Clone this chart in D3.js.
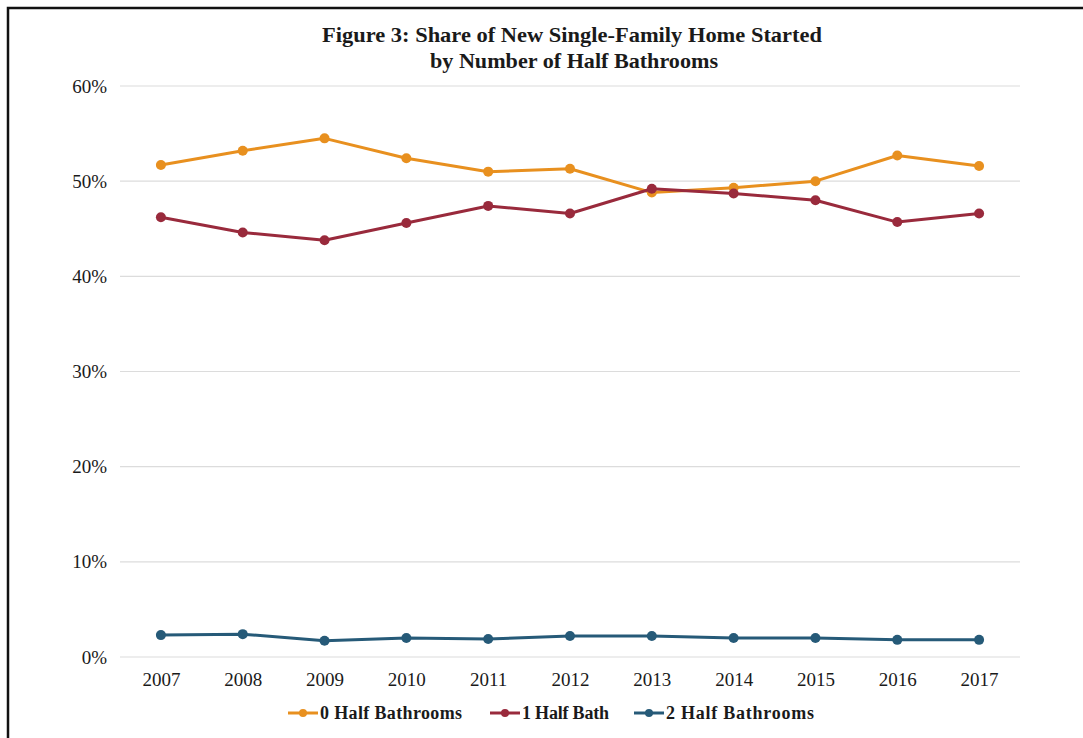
<!DOCTYPE html>
<html>
<head>
<meta charset="utf-8">
<script src="https://cdn.jsdelivr.net/npm/d3@7"></script>
<style>
  body { margin: 0; background: #fff; }
  svg { display: block; }
  text { font-family: 'Liberation Serif', 'Times New Roman', serif; fill: #1a1a1a; }
</style>
</head>
<body>
<div id="chart"></div>
<script>
// years on the x axis
let years = ['2007', '2008', '2009', '2010', '2011', '2012', '2013', '2014', '2015', '2016', '2017']
// share of starts, percent
let zeroHalf = [51.7, 53.2, 54.5, 52.4, 51.0, 51.3, 48.8, 49.3, 50.0, 52.7, 51.6]
let oneHalf = [46.2, 44.6, 43.8, 45.6, 47.4, 46.6, 49.2, 48.7, 48.0, 45.7, 46.6]
let twoHalf = [2.3, 2.4, 1.7, 2.0, 1.9, 2.2, 2.2, 2.0, 2.0, 1.8, 1.8]
let seriesNames = ['0 Half Bathrooms', '1 Half Bath', '2 Half Bathrooms']
let yTicks = [0, 10, 20, 30, 40, 50, 60]

let colors = ['#e8901f', '#992a3c', '#265a78']
let series = [zeroHalf, oneHalf, twoHalf]

let width = 1083
let height = 738

let svg = d3.select('#chart').append('svg')
  .attr('width', width)
  .attr('height', height)

// frame (left and top edges only, like the scanned figure)
svg.append('path')
  .attr('d', 'M8,738 V8 H1083')
  .attr('fill', 'none')
  .attr('stroke', '#111')
  .attr('stroke-width', 2.5)

// title, condensed serif like the original
svg.append('text')
  .attr('x', 572).attr('y', 42)
  .attr('text-anchor', 'middle')
  .attr('textLength', 500)
  .attr('lengthAdjust', 'spacingAndGlyphs')
  .style('font-weight', 'bold')
  .style('font-size', '22px')
  .text('Figure 3: Share of New Single-Family  Home Started')
svg.append('text')
  .attr('x', 574).attr('y', 68)
  .attr('text-anchor', 'middle')
  .attr('textLength', 288)
  .attr('lengthAdjust', 'spacingAndGlyphs')
  .style('font-weight', 'bold')
  .style('font-size', '22px')
  .text('by Number of Half Bathrooms')

let x = d3.scalePoint()
  .domain(years)
  .range([120, 1020])
  .padding(0.5)

let y = d3.scaleLinear()
  .domain([0, 60])
  .range([657, 86])

// gridlines
svg.append('g')
  .selectAll('line')
  .data(yTicks)
  .enter().append('line')
  .attr('x1', 120)
  .attr('x2', 1020)
  .attr('y1', d => y(d))
  .attr('y2', d => y(d))
  .attr('stroke', '#dcdcdc')
  .attr('stroke-width', 1.2)

// y axis labels
let yAxis = svg.append('g')
  .attr('transform', 'translate(107,0)')
  .call(d3.axisLeft(y).tickValues(yTicks).tickFormat(d => d + '%').tickSize(0).tickPadding(0))
yAxis.select('.domain').remove()
yAxis.selectAll('text')
  .style('font-size', '19px')
  .style('font-family', "'Liberation Serif', serif")
  .attr('fill', '#1a1a1a')

// x axis labels
let xAxis = svg.append('g')
  .attr('transform', 'translate(0,' + 672 + ')')
  .call(d3.axisBottom(x).tickSize(0).tickPadding(0))
xAxis.select('.domain').remove()
xAxis.selectAll('text')
  .style('font-size', '19px')
  .style('font-family', "'Liberation Serif', serif")
  .attr('fill', '#1a1a1a')

let line = d3.line()
  .x((d, i) => x(years[i]))
  .y(d => y(d))

series.forEach((values, s) => {
  let g = svg.append('g')
  g.append('path')
    .datum(values)
    .attr('d', line)
    .attr('fill', 'none')
    .attr('stroke', colors[s])
    .attr('stroke-width', 3)
    .attr('stroke-linejoin', 'round')
  g.selectAll('circle')
    .data(values)
    .enter().append('circle')
    .attr('cx', (d, i) => x(years[i]))
    .attr('cy', d => y(d))
    .attr('r', 5)
    .attr('fill', colors[s])
})

// legend
let legendX = [288, 490, 634]
let legendW = [142, 87, 148]
let legend = svg.append('g')
seriesNames.forEach((name, s) => {
  let item = legend.append('g').attr('transform', 'translate(' + legendX[s] + ',713)')
  item.append('line')
    .attr('x1', 0).attr('x2', 30)
    .attr('stroke', colors[s])
    .attr('stroke-width', 3)
  item.append('circle')
    .attr('cx', 15).attr('r', 4)
    .attr('fill', colors[s])
  item.append('text')
    .attr('x', 32).attr('y', 6)
    .attr('textLength', legendW[s])
    .attr('lengthAdjust', 'spacing')
    .style('font-weight', 'bold')
    .style('font-size', '18px')
    .text(name)
})
</script>
</body>
</html>
